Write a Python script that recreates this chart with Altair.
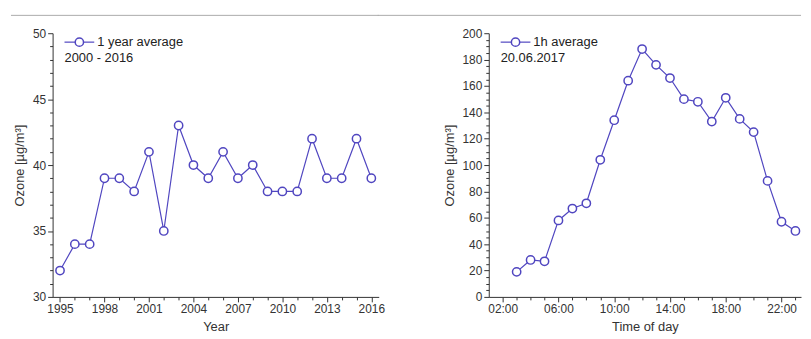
import altair as alt
import pandas as pd

# ---- data ----
years = list(range(1995, 2017))
ozone_year = [32, 34, 34, 39, 39, 38, 41, 35, 43, 40, 39, 41, 39, 40, 38, 38, 38, 42, 39, 39, 42, 39]

hours = list(range(3, 24))
ozone_hour = [19, 28, 27, 58, 67, 71, 104, 134, 164, 188, 176, 166, 150, 148, 133, 151, 135, 125, 88, 57, 50]

legend_left = ["1 year average", "2000 - 2016"]
legend_right = ["1h average", "20.06.2017"]

y_title = "Ozone [µg/m³]"

COLOR = "#5046c0"
FONT = "Liberation Sans"
AX = "#333333"

df_year = pd.DataFrame({"year": years, "ozone": ozone_year})
df_hour = pd.DataFrame({"hour": hours, "ozone": ozone_hour})
one = pd.DataFrame({"k": [0]})

H = 266


def panel(df, xf, yf, xdom, ydom, xvals, xtest, xlabel, yvals, ytest, xtitle, leg, W, rule_x, rule_x2):
    x_axis = alt.Axis(
        values=xvals,
        format="d",
        labelExpr=f"({xtest}) ? {xlabel} : ''",
        tickSize={"condition": {"test": xtest, "value": 5}, "value": 3},
        labelOverlap=False,
        title=xtitle,
        grid=False,
    )
    y_axis = alt.Axis(
        values=yvals,
        format="d",
        labelExpr=f"({ytest}) ? datum.label : ''",
        tickSize={"condition": {"test": ytest, "value": 5}, "value": 3},
        labelOverlap=False,
        title=y_title,
        grid=False,
    )
    x = alt.X(f"{xf}:Q", scale=alt.Scale(domain=xdom, nice=False, zero=False), axis=x_axis)
    y = alt.Y(f"{yf}:Q", scale=alt.Scale(domain=ydom, nice=False, zero=False), axis=y_axis)
    base = alt.Chart(df).encode(x=x, y=y)
    line = base.mark_line(color=COLOR, strokeWidth=1.2)
    pts = base.mark_point(shape="circle", filled=True, fill="white", stroke=COLOR,
                          strokeWidth=1.5, size=70, opacity=1)
    top = alt.Chart(one).mark_rule(color="#aaaaaa", strokeWidth=1).encode(
        x=alt.value(rule_x), x2=alt.value(rule_x2), y=alt.value(-18))
    lg_line = alt.Chart(one).mark_rule(color=COLOR, strokeWidth=1.2).encode(
        x=alt.value(12), x2=alt.value(42), y=alt.value(9))
    lg_pt = alt.Chart(one).mark_point(shape="circle", filled=True, fill="white", stroke=COLOR,
                                      strokeWidth=1.5, size=70, opacity=1).encode(
        x=alt.value(27), y=alt.value(9))
    lg_t1 = alt.Chart(one).mark_text(align="left", baseline="middle", font=FONT,
                                     fontSize=13, color="#222").encode(
        x=alt.value(45), y=alt.value(9), text=alt.value(leg[0]))
    lg_t2 = alt.Chart(one).mark_text(align="left", baseline="middle", font=FONT,
                                     fontSize=13, color="#222").encode(
        x=alt.value(12), y=alt.value(25), text=alt.value(leg[1]))
    return alt.layer(top, line, pts, lg_line, lg_pt, lg_t1, lg_t2).properties(width=W, height=H)


left = panel(df_year, "year", "ozone", [1994.5, 2016.5], [30, 50],
             years, "datum.value % 3 === 0", "datum.label",
             list(range(30, 51)), "datum.value % 5 === 0", "Year", legend_left, 329, -42, 329)

right = panel(df_hour, "hour", "ozone", [1.0, 23.4], [0, 200],
              list(range(2, 24)), "(datum.value - 2) % 4 === 0",
              "((datum.value < 10 ? '0' : '') + datum.value + ':00')",
              list(range(0, 201, 5)), "datum.value % 20 === 0", "Time of day", legend_right, 315, -112, 315)

chart = alt.hconcat(left, right, spacing=-8).properties(
    padding={"left": 2, "top": 5, "right": 0, "bottom": 0}
).configure_view(stroke=None).configure_axis(
    domainColor=AX, tickColor=AX, labelColor=AX, titleColor=AX,
    labelFont=FONT, titleFont=FONT, labelFontSize=12, titleFontSize=13,
    titleFontWeight="normal", labelPadding=2, titlePadding=6,
)

chart.save("out.html", embed_options={"renderer": "svg", "actions": False})
